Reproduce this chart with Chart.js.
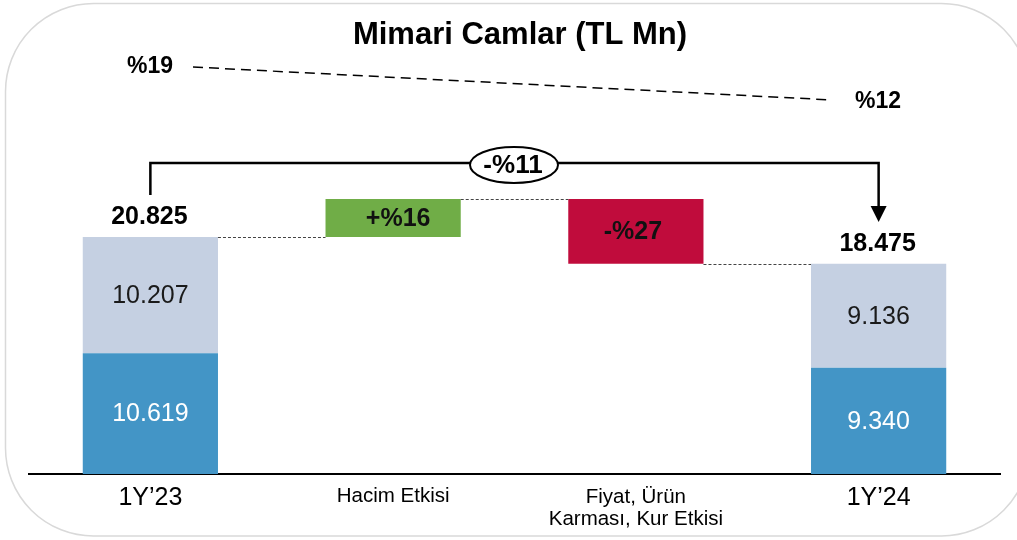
<!DOCTYPE html>
<html>
<head>
<meta charset="utf-8">
<script src="https://cdn.jsdelivr.net/npm/chart.js@4"></script>
<style>
    html, body { margin: 0; padding: 0; background: #ffffff; }
    #wrap { width: 1017px; height: 540px; position: relative; }
</style>
</head>
<body>
<div id="wrap"><canvas id="waterfallChart"></canvas></div>
<script>
// Data
const categories = ['1Y\u201923', 'Hacim Etkisi', ['Fiyat, Ürün', 'Karması, Kur Etkisi'], '1Y\u201924'];
const lowerValues = [10.619, null, null, 9.340];   // blue segment
const upperValues = [10.207, null, null, 9.136];   // light segment
const totals = ['20.825', null, null, '18.475'];
const effectValues = [null, 3.34, -5.69, null];     // bridge steps
const effectLabels = [null, '+%16', '-%27', null];
const marginStart = '%19';
const marginEnd = '%12';
const changeLabel = '-%11';

const BLUE = '#4395c6';
const LIGHT = '#c5d0e2';
const GREEN = '#70ad47';
const RED = '#c00c3c';
const FONT = "'Liberation Sans', Arial, sans-serif";

// build floating ranges
const lowerRanges = lowerValues.map(v => v === null ? null : [0, v]);
const upperRanges = upperValues.map((v, i) => v === null ? null : [lowerValues[i], lowerValues[i] + v]);
let running = lowerValues[0] + upperValues[0];
const effectRanges = effectValues.map(v => {
    if (v === null) return null;
    const r = [running, running + v];
    running += v;
    return r;
});

// Frame, title and annotations
const decorPlugin = {
    id: 'decor',
    beforeDraw(chart) {
        const ctx = chart.ctx;
        ctx.save();
        ctx.strokeStyle = '#d9d9d9';
        ctx.lineWidth = 1.5;
        ctx.beginPath();
        ctx.roundRect(5.5, 3.5, 1024, 532.5, 88);
        ctx.stroke();
        ctx.restore();
    },
    afterDatasetsDraw(chart) {
        const ctx = chart.ctx;
        const x = chart.scales.x;
        const y = chart.scales.y;
        const metaLow = chart.getDatasetMeta(0);
        const metaUp = chart.getDatasetMeta(1);
        const metaFx = chart.getDatasetMeta(2);
        ctx.save();

        // title
        ctx.fillStyle = '#000';
        ctx.textAlign = 'center';
        ctx.textBaseline = 'middle';
        ctx.font = `bold 31px ${FONT}`;
        ctx.fillText('Mimari Camlar (TL Mn)', 520, 35);

        // margin trend
        ctx.font = `bold 23px ${FONT}`;
        ctx.fillText(marginStart, 150, 67);
        ctx.fillText(marginEnd, 878, 102);
        ctx.strokeStyle = '#000';
        ctx.lineWidth = 1.5;
        ctx.setLineDash([10, 6]);
        ctx.beginPath();
        ctx.moveTo(193, 67);
        ctx.lineTo(832, 100);
        ctx.stroke();
        ctx.setLineDash([]);

        // connectors between bars
        ctx.strokeStyle = '#444';
        ctx.lineWidth = 1;
        ctx.setLineDash([3, 2]);
        ctx.beginPath();
        for (let i = 0; i < categories.length - 1; i++) {
            const a = upperRanges[i] ? metaUp.data[i] : metaFx.data[i];
            const b = upperRanges[i + 1] ? metaUp.data[i + 1] : metaFx.data[i + 1];
            const level = upperRanges[i] ? upperRanges[i][1] : effectRanges[i][1];
            const py = Math.round(y.getPixelForValue(level)) + 0.5;
            ctx.moveTo(a.x + a.width / 2, py);
            ctx.lineTo(b.x - b.width / 2, py);
        }
        ctx.stroke();
        ctx.setLineDash([]);

        // segment labels
        ctx.font = `25px ${FONT}`;
        lowerValues.forEach((v, i) => {
            if (v === null) return;
            const el = metaLow.data[i];
            ctx.fillStyle = '#ffffff';
            ctx.fillText(v.toFixed(3), el.x, (el.y + el.base) / 2 + 1);
            const eu = metaUp.data[i];
            ctx.fillStyle = '#1a1a1a';
            ctx.fillText(upperValues[i].toFixed(3), eu.x, (eu.y + eu.base) / 2 + 1);
        });

        // totals
        ctx.fillStyle = '#000';
        ctx.font = `bold 25px ${FONT}`;
        totals.forEach((t, i) => {
            if (t === null) return;
            const eu = metaUp.data[i];
            ctx.fillText(t, eu.x - 1, eu.y - 20);
        });

        // effect labels
        ctx.font = `bold 25px ${FONT}`;
        effectLabels.forEach((t, i) => {
            if (t === null) return;
            const el = metaFx.data[i];
            ctx.fillStyle = '#111';
            ctx.fillText(t, el.x + (i === 1 ? 5 : -3), (el.y + el.base) / 2 + 1);
        });

        // bracket with arrow
        const x0 = metaUp.data[0].x;
        const x1 = metaUp.data[3].x;
        const top = 163;
        ctx.strokeStyle = '#000';
        ctx.lineWidth = 2.5;
        ctx.beginPath();
        ctx.moveTo(x0, 195);
        ctx.lineTo(x0, top);
        ctx.lineTo(x1, top);
        ctx.lineTo(x1, 208);
        ctx.stroke();
        ctx.fillStyle = '#000';
        ctx.beginPath();
        ctx.moveTo(x1 - 8, 206);
        ctx.lineTo(x1 + 8, 206);
        ctx.lineTo(x1, 222);
        ctx.closePath();
        ctx.fill();

        // ellipse label
        ctx.fillStyle = '#fff';
        ctx.lineWidth = 2;
        ctx.beginPath();
        ctx.ellipse(514, top + 2, 44, 18, 0, 0, Math.PI * 2);
        ctx.fill();
        ctx.stroke();
        ctx.fillStyle = '#000';
        ctx.font = `bold 26px ${FONT}`;
        ctx.fillText(changeLabel, 513, top + 3);

        // category labels
        ctx.fillStyle = '#000';
        categories.forEach((c, i) => {
            const cx = x.getPixelForValue(i);
            if (Array.isArray(c)) {
                ctx.font = `20.5px ${FONT}`;
                ctx.fillText(c[0], cx, 497);
                ctx.fillText(c[1], cx, 519);
            } else if (i === 0 || i === categories.length - 1) {
                ctx.font = `25px ${FONT}`;
                ctx.fillText(c, cx, 498);
            } else {
                ctx.font = `20.5px ${FONT}`;
                ctx.fillText(c, cx, 496);
            }
        });

        ctx.restore();
    }
};

const chartCtx = document.getElementById('waterfallChart');
new Chart(chartCtx, {
    type: 'bar',
    data: {
        labels: categories,
        datasets: [
            { data: lowerRanges, backgroundColor: BLUE },
            { data: upperRanges, backgroundColor: LIGHT },
            { data: effectRanges, backgroundColor: [null, GREEN, RED, null] }
        ]
    },
    options: {
        responsive: true,
        maintainAspectRatio: false,
        animation: false,
        layout: { padding: { left: 29, right: 17, top: 19, bottom: 0 } },
        datasets: {
            bar: {
                grouped: false,
                barPercentage: 0.557,
                categoryPercentage: 1,
                borderWidth: 0
            }
        },
        plugins: {
            legend: { display: false },
            tooltip: { enabled: false }
        },
        scales: {
            x: {
                grid: { display: false },
                ticks: { display: false },
                border: { display: true, color: '#000', width: 2 },
                afterFit: (s) => { s.height = 66; }
            },
            y: {
                display: false,
                min: 0,
                max: 40
            }
        }
    },
    plugins: [decorPlugin]
});
</script>
</body>
</html>
